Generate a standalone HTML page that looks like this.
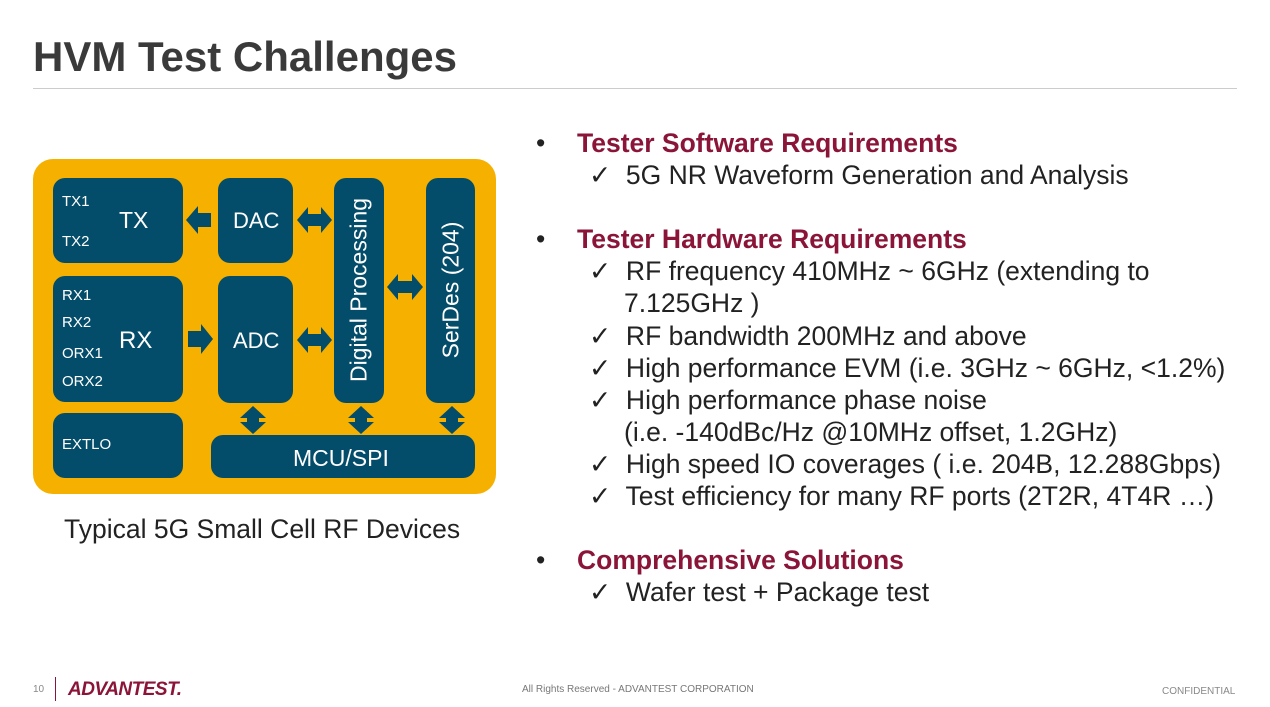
<!DOCTYPE html>
<html><head><meta charset="utf-8"><style>
body{margin:0;width:1270px;height:707px;background:#fff;font-family:"Liberation Sans",sans-serif;position:relative;overflow:hidden}
.a{position:absolute;white-space:nowrap}
h1{position:absolute;left:33px;top:33px;margin:0;font-size:42px;color:#3a3a3a;font-weight:bold}
.hr{position:absolute;left:33px;top:88px;width:1204px;height:1px;background:#ccc}
.b{position:absolute;background:#044d6a;border-radius:12px;color:#fff}
.r{font-size:26.5px;line-height:32.1px;color:#222}
.h{color:#8a1538;font-weight:bold}
</style></head><body>
<h1>HVM Test Challenges</h1>
<div class="hr"></div>
<div class="a" style="left:33px;top:159px;width:463px;height:335px;background:#f5b000;border-radius:20px"></div>
<div class="b" style="left:53px;top:178px;width:130px;height:85px"><span class="a" style="left:9px;top:15px;font-size:15px">TX1</span><span class="a" style="left:9px;top:55px;font-size:15px">TX2</span><span class="a" style="left:66px;top:29px;font-size:23px">TX</span></div>
<div class="b" style="left:218px;top:178px;width:75px;height:85px"><span class="a" style="left:15px;top:30px;font-size:22px">DAC</span></div>
<div class="b" style="left:334px;top:178px;width:50px;height:225px"><span class="a" style="left:25px;top:112px;font-size:23px;transform:translate(-50%,-50%) rotate(-90deg)">Digital Processing</span></div>
<div class="b" style="left:426px;top:178px;width:49px;height:225px"><span class="a" style="left:25px;top:112px;font-size:23px;transform:translate(-50%,-50%) rotate(-90deg)">SerDes (204)</span></div>
<div class="b" style="left:53px;top:276px;width:130px;height:126px"><span class="a" style="left:9px;top:11px;font-size:15px">RX1</span><span class="a" style="left:9px;top:38px;font-size:15px">RX2</span><span class="a" style="left:9px;top:69px;font-size:15px">ORX1</span><span class="a" style="left:9px;top:97px;font-size:15px">ORX2</span><span class="a" style="left:66px;top:51px;font-size:24px">RX</span></div>
<div class="b" style="left:218px;top:276px;width:75px;height:127px"><span class="a" style="left:15px;top:52px;font-size:22px">ADC</span></div>
<div class="b" style="left:53px;top:413px;width:130px;height:65px"><span class="a" style="left:9px;top:23px;font-size:15px">EXTLO</span></div>
<div class="b" style="left:211px;top:435px;width:264px;height:43px"><span class="a" style="left:82px;top:10px;font-size:23px">MCU/SPI</span></div>
<svg class="a" style="left:0;top:0" width="500" height="500" fill="#044d6a">
<polygon points="186,220 198,206 198,213 211,213 211,227 198,227 198,234"/>
<polygon points="188,331 201,331 201,324 213,339 201,354 201,347 188,347"/>
<polygon points="297,220 308,207 308,214 321,214 321,207 332,220 321,233 321,226 308,226 308,233"/>
<polygon points="297,340 308,327 308,334 321,334 321,327 332,340 321,353 321,346 308,346 308,353"/>
<polygon points="387,287 398,274 398,281 412,281 412,274 423,287 412,300 412,293 398,293 398,300"/>
<polygon points="253,406 266,418 259,418 259,422 266,422 253,434 240,422 247,422 247,418 240,418"/>
<polygon points="361,406 374,418 367,418 367,422 374,422 361,434 348,422 355,422 355,418 348,418"/>
<polygon points="452,406 465,418 458,418 458,422 465,422 452,434 439,422 446,422 446,418 439,418"/>
</svg>
<div class="a" style="left:64px;top:514px;font-size:26.5px;color:#222">Typical 5G Small Cell RF Devices</div>
<div class="a r" style="left:536px;top:127px">
<div><span style="display:inline-block;width:41px">•</span><span class="h">Tester Software Requirements</span></div>
<div style="padding-left:53px">✓&nbsp; 5G NR Waveform Generation and Analysis</div>
<div>&nbsp;</div>
<div><span style="display:inline-block;width:41px">•</span><span class="h">Tester Hardware Requirements</span></div>
<div style="padding-left:53px">✓&nbsp; RF frequency 410MHz ~ 6GHz (extending to</div>
<div style="padding-left:88px">7.125GHz )</div>
<div style="padding-left:53px">✓&nbsp; RF bandwidth 200MHz and above</div>
<div style="padding-left:53px">✓&nbsp; High performance EVM (i.e. 3GHz ~ 6GHz, &lt;1.2%)</div>
<div style="padding-left:53px">✓&nbsp; High performance phase noise</div>
<div style="padding-left:88px">(i.e. -140dBc/Hz @10MHz offset, 1.2GHz)</div>
<div style="padding-left:53px">✓&nbsp; High speed IO coverages ( i.e. 204B, 12.288Gbps)</div>
<div style="padding-left:53px">✓&nbsp; Test efficiency for many RF ports (2T2R, 4T4R …)</div>
<div>&nbsp;</div>
<div><span style="display:inline-block;width:41px">•</span><span class="h">Comprehensive Solutions</span></div>
<div style="padding-left:53px">✓&nbsp; Wafer test + Package test</div>
</div>
<div class="a" style="left:33px;top:684px;font-size:10px;color:#888">10</div>
<div class="a" style="left:55px;top:677px;width:1px;height:24px;background:#8a1538"></div>
<div class="a" style="left:68px;top:679px;font-size:19px;font-weight:bold;font-style:italic;color:#8a1538;letter-spacing:-0.5px">ADVANTEST.</div>
<div class="a" style="left:522px;top:684px;font-size:10px;color:#777">All Rights Reserved - ADVANTEST CORPORATION</div>
<div class="a" style="left:1162px;top:686px;font-size:10px;color:#888">CONFIDENTIAL</div>
</body></html>
